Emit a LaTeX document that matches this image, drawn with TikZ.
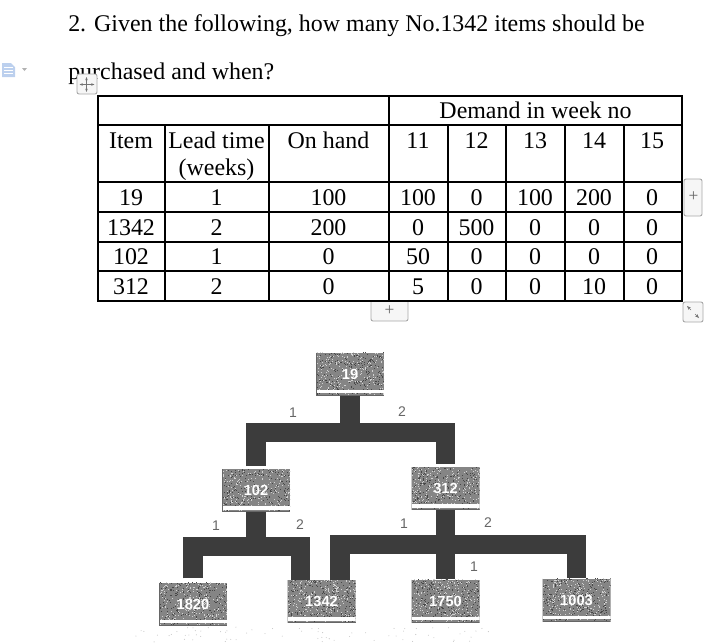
\documentclass[tikz,border=0pt]{standalone}
\usepackage{fontspec}
\setmainfont{Liberation Serif}
\newfontfamily\labelfont{Liberation Sans}
\usepackage{xcolor}
\usepackage{tikz}
\usetikzlibrary{calc,positioning,arrows.meta}
\definecolor{barcol}{HTML}{3C3C3C}
\definecolor{btnline}{HTML}{A8A8A8}
\definecolor{btnfill}{HTML}{F6F6F6}
\definecolor{iconcol}{HTML}{BCD0EE}
\tikzset{
    bodytext/.style={anchor=base, inner sep=0pt, font=\fontsize{17.95}{20}\selectfont},
    gridline/.style={line width=1.5pt, black},
    bar/.style={line width=14.5pt, barcol},
    qty/.style={inner sep=0pt, text=black!60, font=\labelfont\fontsize{10.5}{12}\selectfont},
    part/.style={minimum width=51pt, minimum height=32pt, inner sep=0pt, text=white,
        font=\labelfont\bfseries\fontsize{11}{12}\selectfont,
        path picture={
            \fill[black!48] (path picture bounding box.south west) rectangle (path picture bounding box.north east);
            \foreach \k in {1,...,240} {
                \fill[black!18] ($(path picture bounding box.south west)+(rnd*68,-rnd*43)$) rectangle ++(1,-1);
                \fill[black!72] ($(path picture bounding box.south west)+(rnd*68,-rnd*43)$) rectangle ++(1,-1);
            }
            \draw[white, line width=2.5pt] ([yshift=3pt]path picture bounding box.south west) -- ([yshift=3pt]path picture bounding box.south east);
            \draw[black!60, line width=1.2pt] (path picture bounding box.north west) -- (path picture bounding box.south west) -- (path picture bounding box.south east);
        }},
    button/.style={draw=btnline, fill=btnfill, rounded corners=1.5pt, line width=0.7pt},
    btnmark/.style={inner sep=0pt, text=black!60, font=\fontsize{13}{14}\selectfont},
}
\pgfmathsetseed{1342}
\begin{document}
\begin{tikzpicture}[x=0.75pt, y=-0.75pt]
    \useasboundingbox (0,0) rectangle (709,643);

    % Question
    \node[bodytext, anchor=base west] (line1) at (68,31) {2. Given the following, how many No.1342 items should be};
    \node[bodytext, anchor=base west] (line2) at (68,79) {purchased and when?};

    % Table rules
    \draw[gridline] (98,96) rectangle (682,301);
    \foreach \y in {124.5,182,212,242,271}
        \draw[gridline] (98,\y) -- (682,\y);
    \foreach \x in {165,269}
        \draw[gridline] (\x,124.5) -- (\x,301);
    \draw[gridline] (389,96) -- (389,301);
    \foreach \x in {448,506,565,624}
        \draw[gridline] (\x,124.5) -- (\x,301);

    % Header
    \node[bodytext] (demand) at (535.5,118) {Demand in week no};
    \foreach \x/\t/\n in {131/Item/item, 216.5/Lead time/lead, 328.5/On hand/hand, 418/11/w11, 476.5/12/w12, 535/13/w13, 594/14/w14, 652/15/w15}
        \node[bodytext] (\n) at (\x,148.5) {\t};
    \node[bodytext] (weeks) at (216.5,175) {(weeks)};

    % Rows
    \foreach \y/\vals in {205/{19,1,100,100,0,100,200,0}, 235/{1342,2,200,0,500,0,0,0}, 264/{102,1,0,50,0,0,0,0}, 294/{312,2,0,5,0,0,10,0}} {
        \foreach \v [count=\c] in \vals {
            \pgfmathsetmacro{\colx}{{131,216.5,328.5,418,476.5,535,594,652}[\c-1]}
            \node[bodytext] (cell\y-\c) at (\colx,\y) {\v};
        }
    }

    % Parts
    \node[part] (n19) at (350,374) {19};
    \node[part] (n102) at (256,490.5) {102};
    \node[part] (n312) at (445.5,488.5) {312};
    \node[part] (n1820) at (193,604) {1820};
    \node[part] (n1342) at (321.5,601.5) {1342};
    \node[part] (n1750) at (445.5,601) {1750};
    \node[part] (n1003) at (576.5,600) {1003};

    % Bars
    \coordinate (j19) at (350,432.5);
    \coordinate (j102) at (256,546.5);
    \coordinate (j312) at (445.5,544.5);
    \coordinate (left1342) at ($(n1342.north)+(-21,0)$);
    \coordinate (right1342) at ($(n1342.north)+(18.5,0)$);
    \draw[bar] (n19.south) -- (j19);
    \draw[bar, shorten <=2pt, shorten >=2pt] (n102.north) |- (j19) -| (n312.north);
    \draw[bar] (n102.south) -- (j102);
    \draw[bar, shorten <=3pt] (n1820.north) |- (j102) -| (left1342);
    \draw[bar] (n312.south) -- (n1750.north);
    \draw[bar] (right1342) |- (j312) -| (n1003.north);

    % Quantities
    \node[qty] (q1) at (293,413) {1};
    \node[qty] (q2) at (402,412) {2};
    \node[qty] (q3) at (216,526) {1};
    \node[qty] (q4) at (300,525) {2};
    \node[qty] (q5) at (404,524) {1};
    \node[qty] (q6) at (488,523) {2};
    \node[qty] (q7) at (474,567) {1};

    % Scan specks
    \foreach \k in {1,...,70}
        \fill[black!22] ({130+rnd*360},{627+rnd*15}) circle (0.4pt);

    % Editor handles
    \draw[button] (77,74) rectangle (97,94);
    \draw[{Stealth[length=2.5pt]}-{Stealth[length=2.5pt]}, black!55, line width=0.4pt] (79.5,84.5) -- (94.5,84.5);
    \draw[{Stealth[length=2.5pt]}-{Stealth[length=2.5pt]}, black!55, line width=0.4pt] (86.5,77) -- (86.5,92);
    \fill[iconcol] (2,63) -- (11,63) -- (15,67) -- (15,77) -- (2,77) -- cycle;
    \foreach \y in {67,70,73}
        \draw[white, line width=0.6pt] (4,\y) -- (13,\y);
    \fill[black!30] (22,68) -- (27,68) -- (24.5,71) -- cycle;
    \draw[button] (684,179) rectangle (702,216);
    \node[btnmark] (plusrow) at (693.5,197) {+};
    \draw[button] (371,302) -- (371,321) -- (408,321) -- (408,302);
    \node[btnmark] (pluscol) at (389.5,311) {+};
    \draw[button] (683,302) rectangle (703,322);
    \draw[-{Stealth[length=3pt]}, black!55, line width=0.4pt] (691,310) -- (687,306);
    \draw[-{Stealth[length=3pt]}, black!55, line width=0.4pt] (695,314) -- (699,318);
\end{tikzpicture}
\end{document}
